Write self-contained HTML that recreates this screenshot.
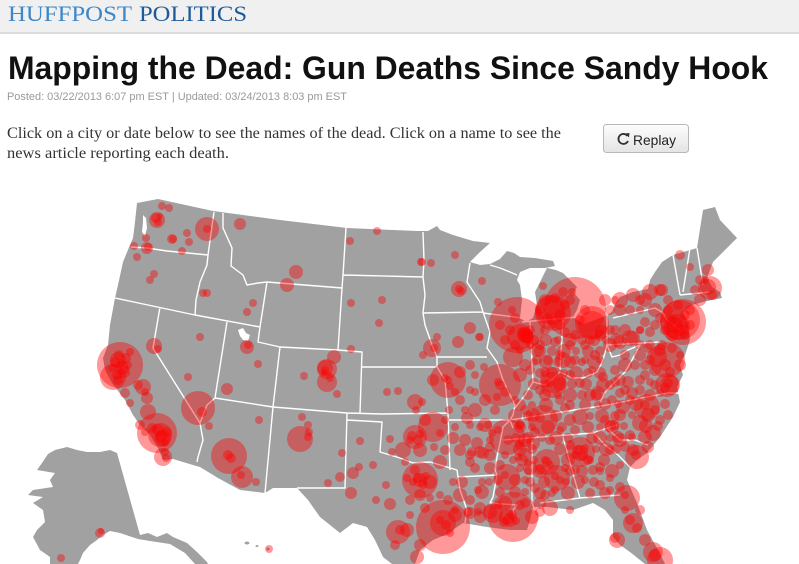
<!DOCTYPE html>
<html><head><meta charset="utf-8"><style>
html,body{margin:0;padding:0;background:#fff;width:799px;height:564px;overflow:hidden}
svg{display:block}
.c{fill:#ff0000;fill-opacity:.4}
.b{fill:none;stroke:#fff;stroke-width:1.4;stroke-linejoin:round}
</style></head><body>
<svg width="799" height="564" viewBox="0 0 799 564" xmlns="http://www.w3.org/2000/svg">
<defs><linearGradient id="bg" x1="0" y1="0" x2="0" y2="1"><stop offset="0" stop-color="#fdfdfd"/><stop offset="1" stop-color="#e4e4e4"/></linearGradient></defs>
<rect x="0" y="0" width="799" height="32" fill="#f0f0f0"/>
<rect x="0" y="32" width="799" height="2" fill="#dcdcdc"/>
<text x="8" y="21" font-family="Liberation Serif, serif" font-size="22" fill="#3d87c9" textLength="124" lengthAdjust="spacingAndGlyphs">HUFFPOST</text>
<text x="139" y="21" font-family="Liberation Serif, serif" font-size="22" fill="#1e5a9a" textLength="108" lengthAdjust="spacingAndGlyphs">POLITICS</text>
<text x="8" y="79" font-family="Liberation Sans, sans-serif" font-weight="bold" font-size="32" fill="#111" textLength="760" lengthAdjust="spacingAndGlyphs">Mapping the Dead: Gun Deaths Since Sandy Hook</text>
<text x="7" y="100" font-family="Liberation Sans, sans-serif" font-size="11" fill="#999" textLength="340" lengthAdjust="spacingAndGlyphs">Posted: 03/22/2013 6:07 pm EST | Updated: 03/24/2013 8:03 pm EST</text>
<text x="7" y="138" font-family="Liberation Serif, serif" font-size="16" fill="#333" textLength="554" lengthAdjust="spacingAndGlyphs">Click on a city or date below to see the names of the dead. Click on a name to see the</text>
<text x="7" y="158" font-family="Liberation Serif, serif" font-size="16" fill="#333" textLength="222" lengthAdjust="spacingAndGlyphs">news article reporting each death.</text>
<rect x="603.5" y="124.5" width="85" height="28" rx="3" fill="url(#bg)" stroke="#b8b8b8"/>
<path d="M627.5,136 A5,5 0 1 0 628,141" fill="none" stroke="#333" stroke-width="1.8"/>
<path d="M625,133.5 L629.5,133 L629,137.5 Z" fill="#333"/>
<text x="633" y="145" font-family="Liberation Sans, sans-serif" font-size="14" fill="#222" textLength="43" lengthAdjust="spacingAndGlyphs">Replay</text>

<!-- land -->
<path fill="#a1a1a1" d="M137,203 L158,199 L213,211 L280,220 L347,228 L417,231 L428,231 L437,226 L440,230 L453,235 L473,241 L490,243 L480,252 L470,262 L480,265 L490,264 L500,259 L507,251 L514,253 L520,257 L535,258 L553,261 L555,266 L545,268 L530,268 L520,272 L517,280 L520,285 L522,300 L520,318 L526,322 L533,318 L537,305 L535,292 L540,282 L547,268 L556,270 L563,273 L570,280 L577,287 L574,293 L580,300 L577,310 L573,317 L583,324 L595,320 L605,316 L612,312 L615,304 L620,297 L633,292 L648,289 L650,280 L655,272 L662,262 L673,255 L697,248 L703,210 L715,207 L720,220 L737,238 L725,250 L713,262 L707,278 L712,287 L720,292 L722,298 L712,300 L703,302 L692,305 L683,312 L688,325 L690,340 L685,355 L680,365 L683,375 L677,387 L680,402 L673,417 L660,437 L647,453 L637,460 L630,467 L627,480 L637,503 L647,530 L658,550 L665,564 L645,564 L630,552 L620,545 L613,537 L613,520 L605,510 L600,507 L593,503 L573,510 L547,507 L533,507 L530,520 L527,530 L510,530 L487,527 L463,523 L445,535 L433,540 L420,550 L415,564 L392,564 L383,557 L375,540 L367,527 L353,523 L340,533 L330,525 L320,517 L308,500 L297,488 L273,488 L265,493 L240,490 L218,478 L200,467 L193,465 L173,459 L163,460 L158,448 L150,435 L140,425 L133,415 L125,400 L112,383 L105,370 L103,358 L108,345 L110,325 L115,298 L118,285 L123,262 L130,245 L133,238 L135,222 Z
M48,454 L55,450 L67,447 L77,450 L87,452 L100,452 L110,450 L117,453 L140,535 L148,533 L157,537 L167,533 L173,537 L187,543 L197,552 L207,562 L208,564 L195,564 L185,553 L170,544 L150,541 L138,539 L120,533 L110,531 L103,535 L97,540 L90,545 L83,553 L80,560 L78,564 L50,564 L50,557 L40,550 L33,537 L37,530 L45,522 L43,510 L33,503 L43,497 L28,495 L33,490 L53,487 L50,480 L55,473 L37,470 L42,463 Z"/>
<ellipse cx="247" cy="543" rx="2.5" ry="1.5" fill="#a1a1a1"/>
<ellipse cx="257" cy="546" rx="1.5" ry="1" fill="#a1a1a1"/>
<circle cx="268" cy="549" r="1.5" fill="#a1a1a1"/>
<path fill="#fff" d="M238,330 L243,328 L246,333 L250,335 L248,341 L243,340 L240,336 Z M143,215 L146,218 L147,228 L145,236 L142,232 L143,222 Z"/>

<!-- borders -->
<path class="b" d="M131,247 L147,248 L167,251 L208,255
M214,212 L208,255 L207,265 L200,282 L196,300 L195,315
M115,298 L195,315 L260,327
M223,213 L223,228 L232,248 L231,266 L243,275 L247,285 L258,283 L267,282 L342,288
M346,228 L343,275 L342,288 L338,350
M343,275 L423,277
M267,282 L260,327 L258,342 L280,347 L338,350 L362,352 L360,413
M280,347 L273,407
M160,307 L153,348 L200,423 L203,440 L198,457 L197,462
M227,322 L215,398 L207,405 L200,423
M215,398 L273,407 L347,413 L382,414
M273,407 L265,493
M347,413 L345,488 L297,488
M347,420 L382,422 L380,452 L390,455 L400,458 L413,463 L430,462 L447,467 L457,470
M362,367 L437,367
M382,414 L448,413
M437,367 L445,380 L448,413 L450,470
M457,470 L458,477 L460,490 L467,510 L465,523
M458,477 L497,475
M448,420 L510,420 L513,428
M423,232 L424,260 L423,277 L425,295 L423,313 L483,312
M423,313 L425,325 L432,345 L437,357 L437,367
M437,357 L487,357
M470,263 L467,282 L480,302 L483,312 L490,332 L487,348 L497,362 L503,380 L510,395 L515,405 L513,415 L510,420 L503,427 L500,443 L497,457 L495,470 L497,475 L493,497 L490,503 L517,505 L513,510 L515,520
M483,313 L522,318
M490,265 L500,268 L510,272 L517,275
M530,322 L533,382 L525,395 L515,408
M522,322 L577,317
M563,318 L560,370
M533,382 L545,385 L560,372 L572,378 L583,378 L597,372 L603,360 L607,345
M607,315 L607,345 L660,342
M613,318 L655,308 L662,312 L667,320
M607,345 L612,357 L620,355 L628,350 L640,345 L632,360 L625,372 L612,385 L605,392 L600,403
M510,420 L607,405 L667,393 L680,393
M503,440 L593,433 L607,428 L617,425
M532,440 L532,503 L535,510
M563,437 L572,470 L580,498
M540,503 L580,498 L620,495
M593,432 L605,445 L618,455 L630,467
M607,428 L620,440 L635,440 L648,445
M673,255 L680,295
M690,248 L683,292
M697,248 L703,285
M680,295 L710,292
M667,320 L680,330"/>

<!-- circles -->
<g class="c">
<circle cx="162" cy="206" r="4"/><circle cx="169" cy="208" r="4"/><circle cx="157" cy="220" r="8"/><circle cx="156" cy="218" r="5"/><circle cx="158" cy="222" r="4"/><circle cx="160" cy="216" r="3"/>
<circle cx="207" cy="229" r="12"/><circle cx="207" cy="229" r="4"/><circle cx="240" cy="224" r="6"/><circle cx="187" cy="233" r="4"/><circle cx="189" cy="242" r="4"/><circle cx="172" cy="239" r="5"/><circle cx="173" cy="239" r="4"/><circle cx="146" cy="238" r="4"/><circle cx="147" cy="248" r="6"/><circle cx="148" cy="247" r="4"/><circle cx="134" cy="246" r="4"/><circle cx="137" cy="257" r="4"/><circle cx="182" cy="251" r="4"/>
<circle cx="154" cy="274" r="4"/><circle cx="150" cy="280" r="4"/><circle cx="203" cy="293" r="4"/><circle cx="207" cy="293" r="4"/><circle cx="253" cy="303" r="4"/><circle cx="247" cy="312" r="4"/><circle cx="296" cy="272" r="7"/><circle cx="287" cy="285" r="7"/><circle cx="377" cy="231" r="4"/><circle cx="350" cy="241" r="4"/><circle cx="421" cy="262" r="4"/><circle cx="431" cy="263" r="4"/><circle cx="351" cy="303" r="4"/><circle cx="382" cy="300" r="4"/><circle cx="379" cy="323" r="4"/><circle cx="247" cy="347" r="7"/><circle cx="248" cy="345" r="4"/><circle cx="258" cy="364" r="4"/><circle cx="200" cy="337" r="4"/>
<circle cx="334" cy="357" r="7"/><circle cx="325" cy="368" r="8"/><circle cx="327" cy="382" r="10"/><circle cx="327" cy="369" r="10"/><circle cx="325" cy="370" r="4"/><circle cx="324" cy="372" r="3"/><circle cx="351" cy="349" r="4"/><circle cx="304" cy="376" r="4"/><circle cx="337" cy="394" r="4"/><circle cx="330" cy="378" r="4"/>
<circle cx="120" cy="365" r="23"/><circle cx="118" cy="360" r="8"/><circle cx="122" cy="368" r="7"/><circle cx="115" cy="362" r="5"/><circle cx="126" cy="358" r="5"/><circle cx="124" cy="372" r="6"/><circle cx="117" cy="375" r="5"/><circle cx="128" cy="365" r="4"/><circle cx="112" cy="368" r="4"/><circle cx="130" cy="352" r="4"/><circle cx="119" cy="355" r="5"/><circle cx="121" cy="363" r="4"/>
<circle cx="154" cy="346" r="8"/><circle cx="158" cy="349" r="4"/><circle cx="188" cy="377" r="4"/>
<circle cx="113" cy="377" r="13"/><circle cx="118" cy="380" r="5"/><circle cx="143" cy="387" r="8"/><circle cx="147" cy="398" r="6"/><circle cx="148" cy="412" r="8"/><circle cx="130" cy="403" r="4"/><circle cx="125" cy="393" r="5"/><circle cx="138" cy="385" r="5"/><circle cx="145" cy="392" r="4"/>
<circle cx="157" cy="433" r="20"/><circle cx="160" cy="435" r="12"/><circle cx="163" cy="438" r="8"/><circle cx="158" cy="430" r="6"/><circle cx="167" cy="432" r="5"/><circle cx="152" cy="428" r="5"/><circle cx="165" cy="443" r="4"/><circle cx="163" cy="457" r="9"/><circle cx="165" cy="452" r="4"/><circle cx="166" cy="458" r="4"/><circle cx="140" cy="425" r="5"/><circle cx="145" cy="432" r="4"/><circle cx="161" cy="436" r="6"/>
<circle cx="198" cy="408" r="17"/><circle cx="202" cy="412" r="5"/><circle cx="209" cy="426" r="4"/><circle cx="227" cy="389" r="6"/>
<circle cx="229" cy="456" r="18"/><circle cx="228" cy="455" r="5"/><circle cx="231" cy="458" r="5"/><circle cx="242" cy="477" r="11"/><circle cx="241" cy="475" r="4"/><circle cx="256" cy="482" r="4"/><circle cx="259" cy="420" r="4"/>
<circle cx="300" cy="439" r="13"/><circle cx="302" cy="417" r="4"/><circle cx="308" cy="425" r="4"/><circle cx="308" cy="437" r="4"/><circle cx="309" cy="432" r="4"/>
<circle cx="351" cy="493" r="6"/><circle cx="353" cy="473" r="6"/><circle cx="359" cy="467" r="4"/><circle cx="373" cy="465" r="4"/><circle cx="342" cy="453" r="4"/><circle cx="360" cy="441" r="4"/><circle cx="328" cy="483" r="4"/><circle cx="340" cy="477" r="5"/><circle cx="376" cy="500" r="4"/><circle cx="386" cy="485" r="4"/><circle cx="390" cy="504" r="6"/><circle cx="398" cy="532" r="12"/><circle cx="400" cy="530" r="5"/><circle cx="390" cy="439" r="4"/><circle cx="392" cy="452" r="4"/>
<circle cx="100" cy="533" r="5"/><circle cx="101" cy="531" r="3"/><circle cx="61" cy="558" r="4"/><circle cx="269" cy="549" r="4"/>
<circle cx="387" cy="392" r="4"/><circle cx="398" cy="391" r="4"/><circle cx="415" cy="402" r="8"/><circle cx="422" cy="402" r="4"/><circle cx="416" cy="410" r="4"/><circle cx="433" cy="427" r="15"/><circle cx="415" cy="437" r="12"/><circle cx="412" cy="436" r="5"/><circle cx="418" cy="440" r="5"/><circle cx="420" cy="434" r="4"/><circle cx="410" cy="440" r="4"/><circle cx="403" cy="450" r="8"/><circle cx="440" cy="433" r="4"/><circle cx="453" cy="438" r="6"/><circle cx="434" cy="447" r="4"/><circle cx="449" cy="410" r="4"/><circle cx="455" cy="427" r="4"/><circle cx="467" cy="418" r="6"/><circle cx="465" cy="410" r="4"/><circle cx="480" cy="427" r="4"/><circle cx="492" cy="433" r="4"/><circle cx="488" cy="425" r="4"/>
<circle cx="448" cy="380" r="18"/><circle cx="448" cy="380" r="4"/><circle cx="445" cy="378" r="4"/><circle cx="433" cy="380" r="6"/><circle cx="460" cy="372" r="6"/><circle cx="450" cy="386" r="4"/><circle cx="455" cy="392" r="4"/>
<circle cx="432" cy="348" r="9"/><circle cx="434" cy="348" r="4"/><circle cx="458" cy="342" r="6"/><circle cx="437" cy="337" r="4"/><circle cx="423" cy="355" r="4"/><circle cx="479" cy="337" r="4"/><circle cx="484" cy="367" r="4"/><circle cx="470" cy="328" r="6"/><circle cx="480" cy="337" r="4"/>
<circle cx="500" cy="385" r="21"/><circle cx="500" cy="385" r="5"/><circle cx="498" cy="382" r="4"/><circle cx="513" cy="357" r="10"/><circle cx="525" cy="335" r="8"/><circle cx="537" cy="350" r="7"/><circle cx="475" cy="392" r="4"/><circle cx="470" cy="390" r="4"/><circle cx="497" cy="397" r="4"/><circle cx="505" cy="392" r="5"/>
<circle cx="420" cy="480" r="18"/><circle cx="420" cy="480" r="7"/><circle cx="418" cy="478" r="5"/><circle cx="423" cy="484" r="5"/><circle cx="413" cy="482" r="4"/><circle cx="426" cy="476" r="4"/><circle cx="430" cy="482" r="7"/><circle cx="407" cy="478" r="4"/><circle cx="415" cy="470" r="5"/>
<circle cx="443" cy="527" r="27"/><circle cx="443" cy="523" r="13"/><circle cx="450" cy="533" r="4"/><circle cx="446" cy="525" r="5"/><circle cx="440" cy="520" r="4"/><circle cx="407" cy="530" r="7"/><circle cx="417" cy="557" r="7"/><circle cx="462" cy="482" r="6"/><circle cx="482" cy="482" r="4"/><circle cx="489" cy="482" r="4"/><circle cx="453" cy="482" r="4"/><circle cx="410" cy="500" r="5"/><circle cx="430" cy="498" r="4"/><circle cx="448" cy="500" r="5"/><circle cx="470" cy="500" r="5"/><circle cx="468" cy="512" r="5"/><circle cx="478" cy="490" r="4"/><circle cx="455" cy="510" r="4"/><circle cx="395" cy="545" r="5"/><circle cx="420" cy="545" r="6"/>
<circle cx="507" cy="437" r="18"/><circle cx="508" cy="440" r="5"/><circle cx="477" cy="443" r="6"/><circle cx="483" cy="453" r="6"/><circle cx="498" cy="430" r="4"/><circle cx="513" cy="460" r="4"/><circle cx="518" cy="457" r="4"/><circle cx="528" cy="463" r="4"/><circle cx="533" cy="443" r="7"/><circle cx="472" cy="452" r="5"/><circle cx="480" cy="452" r="6"/><circle cx="490" cy="447" r="5"/>
<circle cx="507" cy="477" r="13"/><circle cx="505" cy="475" r="4"/><circle cx="500" cy="465" r="5"/>
<circle cx="513" cy="517" r="25"/><circle cx="507" cy="517" r="8"/><circle cx="510" cy="520" r="7"/><circle cx="512" cy="515" r="5"/><circle cx="504" cy="522" r="5"/><circle cx="516" cy="521" r="4"/><circle cx="493" cy="513" r="10"/><circle cx="480" cy="517" r="6"/><circle cx="470" cy="513" r="6"/><circle cx="532" cy="517" r="7"/><circle cx="550" cy="508" r="8"/><circle cx="570" cy="510" r="4"/><circle cx="520" cy="505" r="5"/><circle cx="498" cy="505" r="4"/>
<circle cx="547" cy="462" r="13"/><circle cx="547" cy="462" r="5"/><circle cx="545" cy="460" r="4"/><circle cx="550" cy="465" r="4"/><circle cx="557" cy="478" r="13"/><circle cx="555" cy="476" r="4"/><circle cx="560" cy="480" r="4"/><circle cx="540" cy="470" r="5"/><circle cx="565" cy="468" r="4"/><circle cx="535" cy="488" r="5"/><circle cx="545" cy="495" r="5"/><circle cx="555" cy="490" r="4"/>
<circle cx="580" cy="452" r="15"/><circle cx="580" cy="453" r="8"/><circle cx="578" cy="450" r="5"/><circle cx="583" cy="456" r="5"/><circle cx="575" cy="455" r="4"/><circle cx="585" cy="448" r="4"/><circle cx="570" cy="445" r="5"/><circle cx="590" cy="460" r="4"/><circle cx="593" cy="470" r="5"/><circle cx="575" cy="470" r="5"/><circle cx="585" cy="480" r="4"/>
<circle cx="543" cy="420" r="15"/><circle cx="540" cy="418" r="5"/><circle cx="533" cy="415" r="7"/><circle cx="580" cy="417" r="8"/><circle cx="603" cy="385" r="7"/><circle cx="620" cy="380" r="6"/><circle cx="590" cy="395" r="6"/><circle cx="553" cy="385" r="13"/><circle cx="550" cy="383" r="4"/><circle cx="525" cy="410" r="5"/><circle cx="520" cy="425" r="4"/><circle cx="560" cy="400" r="5"/><circle cx="570" cy="420" r="6"/><circle cx="565" cy="408" r="5"/><circle cx="575" cy="430" r="5"/><circle cx="560" cy="430" r="4"/><circle cx="550" cy="440" r="5"/><circle cx="520" cy="445" r="5"/><circle cx="535" cy="432" r="5"/>
<circle cx="600" cy="438" r="7"/><circle cx="600" cy="467" r="5"/><circle cx="610" cy="478" r="4"/><circle cx="620" cy="487" r="5"/><circle cx="627" cy="498" r="13"/><circle cx="625" cy="495" r="4"/><circle cx="617" cy="540" r="8"/><circle cx="615" cy="538" r="5"/><circle cx="633" cy="523" r="10"/><circle cx="630" cy="520" r="5"/><circle cx="637" cy="528" r="5"/><circle cx="653" cy="552" r="10"/><circle cx="655" cy="555" r="6"/><circle cx="660" cy="560" r="13"/><circle cx="645" cy="540" r="6"/><circle cx="640" cy="510" r="5"/><circle cx="625" cy="510" r="4"/><circle cx="637" cy="457" r="12"/><circle cx="636" cy="455" r="5"/><circle cx="620" cy="440" r="7"/><circle cx="633" cy="450" r="6"/><circle cx="647" cy="407" r="13"/><circle cx="645" cy="405" r="5"/><circle cx="640" cy="423" r="8"/><circle cx="623" cy="407" r="7"/><circle cx="667" cy="385" r="12"/><circle cx="668" cy="383" r="5"/><circle cx="665" cy="388" r="5"/><circle cx="653" cy="433" r="8"/><circle cx="610" cy="450" r="5"/><circle cx="615" cy="425" r="5"/><circle cx="630" cy="435" r="5"/><circle cx="605" cy="420" r="5"/><circle cx="612" cy="400" r="5"/><circle cx="630" cy="400" r="5"/><circle cx="655" cy="410" r="5"/><circle cx="660" cy="420" r="5"/><circle cx="650" cy="395" r="6"/><circle cx="640" cy="390" r="5"/><circle cx="620" cy="465" r="4"/><circle cx="610" cy="490" r="4"/><circle cx="600" cy="485" r="5"/>
<circle cx="459" cy="289" r="8"/><circle cx="459" cy="289" r="4"/><circle cx="461" cy="291" r="4"/><circle cx="455" cy="255" r="4"/><circle cx="422" cy="262" r="4"/><circle cx="482" cy="281" r="4"/><circle cx="498" cy="302" r="4"/><circle cx="543" cy="286" r="4"/>
<circle cx="517" cy="325" r="28"/><circle cx="525" cy="335" r="7"/><circle cx="522" cy="332" r="5"/><circle cx="527" cy="338" r="5"/><circle cx="520" cy="337" r="13"/><circle cx="527" cy="337" r="7"/><circle cx="530" cy="330" r="5"/><circle cx="515" cy="318" r="5"/><circle cx="510" cy="330" r="5"/><circle cx="500" cy="325" r="5"/><circle cx="505" cy="340" r="5"/><circle cx="515" cy="345" r="5"/><circle cx="520" cy="350" r="4"/><circle cx="530" cy="345" r="4"/><circle cx="512" cy="310" r="4"/>
<circle cx="575" cy="308" r="31"/><circle cx="553" cy="313" r="18"/><circle cx="550" cy="310" r="15"/><circle cx="592" cy="323" r="17"/><circle cx="592" cy="325" r="14"/><circle cx="545" cy="300" r="6"/><circle cx="555" cy="298" r="5"/><circle cx="565" cy="305" r="5"/><circle cx="560" cy="315" r="6"/><circle cx="570" cy="300" r="5"/><circle cx="548" cy="318" r="5"/><circle cx="580" cy="320" r="5"/><circle cx="585" cy="310" r="5"/><circle cx="540" cy="310" r="5"/><circle cx="563" cy="292" r="5"/><circle cx="572" cy="292" r="4"/><circle cx="560" cy="325" r="5"/><circle cx="552" cy="325" r="4"/><circle cx="545" cy="330" r="5"/><circle cx="565" cy="332" r="5"/><circle cx="575" cy="335" r="5"/><circle cx="590" cy="340" r="5"/><circle cx="600" cy="335" r="6"/><circle cx="602" cy="332" r="7"/><circle cx="610" cy="330" r="5"/><circle cx="585" cy="345" r="5"/><circle cx="570" cy="345" r="5"/><circle cx="555" cy="342" r="5"/><circle cx="540" cy="345" r="5"/><circle cx="563" cy="360" r="8"/><circle cx="553" cy="380" r="13"/><circle cx="560" cy="355" r="5"/><circle cx="548" cy="360" r="5"/><circle cx="575" cy="360" r="5"/><circle cx="585" cy="360" r="4"/><circle cx="595" cy="355" r="5"/><circle cx="537" cy="360" r="5"/><circle cx="530" cy="370" r="5"/><circle cx="545" cy="372" r="5"/><circle cx="570" cy="375" r="5"/><circle cx="580" cy="383" r="5"/><circle cx="540" cy="390" r="5"/><circle cx="592" cy="370" r="4"/>
<circle cx="620" cy="300" r="8"/><circle cx="633" cy="295" r="7"/><circle cx="650" cy="292" r="8"/><circle cx="662" cy="290" r="6"/><circle cx="640" cy="300" r="5"/><circle cx="610" cy="310" r="5"/><circle cx="630" cy="310" r="5"/><circle cx="710" cy="288" r="12"/><circle cx="708" cy="287" r="8"/><circle cx="708" cy="270" r="6"/><circle cx="700" cy="280" r="5"/><circle cx="690" cy="267" r="4"/><circle cx="680" cy="255" r="5"/><circle cx="712" cy="295" r="5"/><circle cx="700" cy="300" r="6"/><circle cx="695" cy="290" r="5"/><circle cx="705" cy="280" r="4"/><circle cx="660" cy="290" r="6"/>
<circle cx="683" cy="322" r="23"/><circle cx="680" cy="320" r="20"/><circle cx="677" cy="327" r="13"/><circle cx="675" cy="325" r="8"/><circle cx="680" cy="330" r="6"/><circle cx="670" cy="320" r="6"/><circle cx="685" cy="315" r="5"/><circle cx="690" cy="325" r="5"/><circle cx="672" cy="335" r="6"/><circle cx="665" cy="330" r="5"/><circle cx="685" cy="335" r="5"/><circle cx="690" cy="310" r="5"/><circle cx="678" cy="305" r="5"/><circle cx="668" cy="310" r="5"/><circle cx="660" cy="318" r="5"/><circle cx="655" cy="325" r="5"/><circle cx="650" cy="332" r="5"/><circle cx="645" cy="322" r="5"/><circle cx="640" cy="330" r="4"/>
<circle cx="667" cy="360" r="18"/><circle cx="657" cy="357" r="10"/><circle cx="660" cy="350" r="6"/><circle cx="665" cy="365" r="6"/><circle cx="670" cy="372" r="5"/><circle cx="655" cy="370" r="6"/><circle cx="650" cy="360" r="5"/><circle cx="662" cy="345" r="5"/><circle cx="672" cy="348" r="5"/><circle cx="648" cy="348" r="5"/><circle cx="670" cy="385" r="10"/><circle cx="633" cy="338" r="7"/><circle cx="630" cy="338" r="8"/><circle cx="620" cy="342" r="7"/><circle cx="617" cy="340" r="7"/><circle cx="640" cy="345" r="5"/><circle cx="625" cy="355" r="5"/><circle cx="635" cy="365" r="5"/><circle cx="645" cy="375" r="5"/><circle cx="615" cy="370" r="5"/><circle cx="600" cy="360" r="4"/><circle cx="610" cy="385" r="5"/><circle cx="625" cy="390" r="5"/><circle cx="640" cy="380" r="5"/><circle cx="655" cy="385" r="5"/><circle cx="603" cy="377" r="5"/>
<!-- extra density -->
<circle cx="534" cy="340" r="5"/><circle cx="546" cy="340" r="6"/><circle cx="558" cy="340" r="4"/><circle cx="570" cy="340" r="7"/><circle cx="582" cy="340" r="5"/><circle cx="594" cy="340" r="6"/><circle cx="606" cy="340" r="4"/>
<circle cx="540" cy="351" r="6"/><circle cx="552" cy="351" r="5"/><circle cx="564" cy="351" r="7"/><circle cx="576" cy="351" r="4"/><circle cx="588" cy="351" r="6"/><circle cx="600" cy="351" r="5"/>
<circle cx="534" cy="362" r="4"/><circle cx="546" cy="362" r="7"/><circle cx="558" cy="362" r="5"/><circle cx="570" cy="362" r="6"/><circle cx="582" cy="362" r="4"/><circle cx="594" cy="362" r="7"/>
<circle cx="540" cy="373" r="5"/><circle cx="552" cy="373" r="6"/><circle cx="564" cy="373" r="4"/><circle cx="576" cy="373" r="7"/><circle cx="588" cy="373" r="5"/><circle cx="600" cy="373" r="6"/>
<circle cx="534" cy="384" r="6"/><circle cx="546" cy="384" r="4"/><circle cx="560" cy="384" r="7"/><circle cx="572" cy="384" r="5"/><circle cx="586" cy="384" r="6"/>
<circle cx="528" cy="395" r="5"/><circle cx="545" cy="395" r="6"/><circle cx="558" cy="395" r="4"/><circle cx="570" cy="395" r="7"/><circle cx="582" cy="395" r="5"/><circle cx="596" cy="395" r="6"/>
<circle cx="520" cy="405" r="6"/><circle cx="532" cy="405" r="4"/><circle cx="546" cy="405" r="7"/><circle cx="570" cy="405" r="5"/><circle cx="585" cy="405" r="6"/><circle cx="598" cy="405" r="4"/>
<circle cx="515" cy="416" r="7"/><circle cx="528" cy="416" r="5"/><circle cx="556" cy="416" r="6"/><circle cx="590" cy="416" r="4"/><circle cx="602" cy="416" r="7"/><circle cx="615" cy="416" r="5"/>
<circle cx="520" cy="427" r="6"/><circle cx="532" cy="427" r="4"/><circle cx="548" cy="427" r="7"/><circle cx="562" cy="427" r="5"/><circle cx="588" cy="427" r="6"/><circle cx="600" cy="427" r="4"/><circle cx="612" cy="427" r="7"/>
<circle cx="516" cy="438" r="5"/><circle cx="528" cy="438" r="6"/><circle cx="542" cy="438" r="4"/><circle cx="556" cy="438" r="7"/><circle cx="568" cy="438" r="5"/><circle cx="592" cy="438" r="6"/><circle cx="610" cy="438" r="4"/>
<circle cx="520" cy="449" r="7"/><circle cx="532" cy="449" r="5"/><circle cx="560" cy="449" r="6"/><circle cx="596" cy="449" r="4"/><circle cx="606" cy="449" r="7"/><circle cx="616" cy="449" r="5"/>
<circle cx="522" cy="460" r="6"/><circle cx="534" cy="460" r="4"/><circle cx="568" cy="460" r="7"/><circle cx="588" cy="460" r="5"/><circle cx="604" cy="460" r="6"/>
<circle cx="528" cy="471" r="4"/><circle cx="540" cy="471" r="7"/><circle cx="570" cy="471" r="5"/><circle cx="582" cy="471" r="6"/><circle cx="600" cy="471" r="4"/><circle cx="612" cy="471" r="7"/>
<circle cx="530" cy="482" r="5"/><circle cx="544" cy="482" r="6"/><circle cx="566" cy="482" r="4"/><circle cx="578" cy="482" r="7"/><circle cx="594" cy="482" r="5"/>
<circle cx="540" cy="493" r="6"/><circle cx="552" cy="493" r="4"/><circle cx="568" cy="493" r="7"/><circle cx="590" cy="493" r="5"/><circle cx="605" cy="493" r="6"/>
<circle cx="615" cy="382" r="5"/><circle cx="628" cy="382" r="6"/><circle cx="650" cy="382" r="4"/>
<circle cx="598" cy="393" r="7"/><circle cx="620" cy="393" r="5"/><circle cx="632" cy="393" r="6"/><circle cx="660" cy="393" r="4"/>
<circle cx="605" cy="404" r="6"/><circle cx="618" cy="404" r="4"/><circle cx="636" cy="404" r="7"/><circle cx="665" cy="404" r="5"/>
<circle cx="620" cy="415" r="6"/><circle cx="632" cy="415" r="4"/><circle cx="648" cy="415" r="7"/><circle cx="668" cy="415" r="5"/>
<circle cx="610" cy="426" r="6"/><circle cx="624" cy="426" r="4"/><circle cx="646" cy="426" r="7"/><circle cx="658" cy="426" r="5"/>
<circle cx="618" cy="437" r="6"/><circle cx="632" cy="437" r="4"/><circle cx="645" cy="437" r="7"/>
<circle cx="625" cy="447" r="5"/><circle cx="648" cy="447" r="6"/>
<circle cx="470" cy="425" r="4"/><circle cx="485" cy="425" r="7"/><circle cx="520" cy="425" r="5"/>
<circle cx="465" cy="440" r="6"/><circle cx="490" cy="440" r="4"/><circle cx="525" cy="440" r="7"/>
<circle cx="470" cy="455" r="5"/><circle cx="490" cy="455" r="6"/><circle cx="505" cy="455" r="4"/><circle cx="525" cy="455" r="7"/>
<circle cx="475" cy="468" r="5"/><circle cx="490" cy="468" r="6"/><circle cx="520" cy="468" r="4"/><circle cx="530" cy="468" r="7"/>
<circle cx="498" cy="480" r="5"/><circle cx="515" cy="480" r="6"/><circle cx="525" cy="480" r="4"/>
<circle cx="482" cy="492" r="7"/><circle cx="500" cy="492" r="5"/><circle cx="515" cy="492" r="6"/><circle cx="525" cy="492" r="4"/>
<circle cx="505" cy="503" r="7"/><circle cx="525" cy="503" r="5"/><circle cx="540" cy="503" r="6"/>
<circle cx="478" cy="512" r="4"/><circle cx="490" cy="512" r="7"/><circle cx="540" cy="512" r="5"/>
<circle cx="425" cy="420" r="6"/><circle cx="445" cy="420" r="4"/>
<circle cx="420" cy="450" r="7"/><circle cx="445" cy="450" r="5"/><circle cx="460" cy="450" r="6"/>
<circle cx="405" cy="462" r="4"/><circle cx="440" cy="462" r="7"/><circle cx="470" cy="462" r="5"/>
<circle cx="420" cy="495" r="6"/><circle cx="440" cy="495" r="4"/><circle cx="460" cy="495" r="7"/>
<circle cx="425" cy="508" r="5"/><circle cx="480" cy="508" r="6"/>
<circle cx="410" cy="515" r="4"/><circle cx="455" cy="515" r="7"/>
<circle cx="470" cy="365" r="5"/><circle cx="525" cy="365" r="6"/>
<circle cx="475" cy="375" r="4"/><circle cx="520" cy="375" r="7"/>
<circle cx="460" cy="400" r="5"/><circle cx="485" cy="400" r="6"/><circle cx="515" cy="400" r="4"/>
<circle cx="475" cy="410" r="7"/><circle cx="495" cy="410" r="5"/>
<circle cx="605" cy="300" r="6"/><circle cx="615" cy="300" r="4"/><circle cx="645" cy="300" r="7"/><circle cx="668" cy="300" r="5"/>
<circle cx="620" cy="310" r="6"/><circle cx="640" cy="310" r="4"/><circle cx="655" cy="310" r="7"/>
<circle cx="615" cy="330" r="5"/><circle cx="625" cy="330" r="6"/><circle cx="640" cy="330" r="4"/>
<circle cx="610" cy="345" r="7"/><circle cx="650" cy="345" r="5"/>
<circle cx="640" cy="355" r="6"/><circle cx="680" cy="355" r="4"/>
<circle cx="625" cy="365" r="7"/><circle cx="645" cy="365" r="5"/><circle cx="680" cy="365" r="6"/>
</g>
</svg>
</body></html>
